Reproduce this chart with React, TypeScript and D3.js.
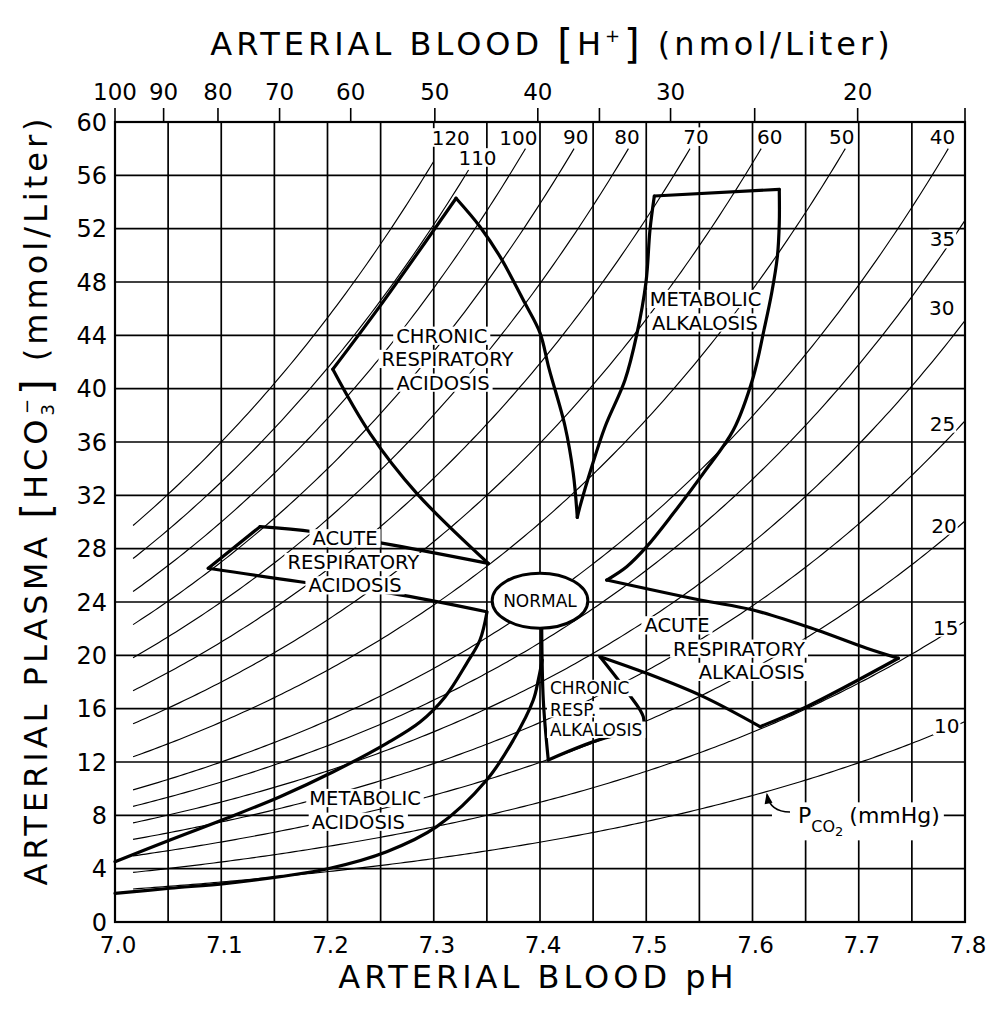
import React, { useEffect, useRef } from 'react';
import * as d3 from 'd3';

type Pt = [number, number]; // [pH, HCO3]

const W = 989;
const H = 1021;
const margin = { top: 122, right: 24, bottom: 99, left: 115 };

const phLabels = [7.0, 7.1, 7.2, 7.3, 7.4, 7.5, 7.6, 7.7, 7.8];
const hco3Labels = [0, 4, 8, 12, 16, 20, 24, 28, 32, 36, 40, 44, 48, 52, 56, 60];
const hPlusTicks = [100, 90, 80, 70, 60, 50, 40, 35, 30, 25, 20];
const hPlusLabels = [100, 90, 80, 70, 60, 50, 40, 30, 20];

// PCO2 isobars (mmHg) and the HCO3 where each one stops
const pco2Values = [10, 15, 20, 25, 30, 35, 40, 50, 60, 70, 80, 90, 100, 110, 120];
const pco2StopHco3 = [60, 60, 60, 60, 60, 60, 58, 58, 58, 58, 58, 58, 58, 56.4, 57];
const pco2StartPh = 7.017;
const pco2LabelAt: Pt[] = [
  [7.7828, 14.72], [7.7819, 22.09], [7.7802, 29.75], [7.7788, 37.4], [7.7781, 46.09],
  [7.7788, 51.22], [7.7788, 58.9], [7.684, 58.9], [7.6162, 58.9], [7.5468, 58.9],
  [7.4819, 58.9], [7.4337, 58.9], [7.3796, 58.84], [7.3412, 57.34], [7.316, 58.84],
];

// zone outlines
const chronicRespAcidosisLeft: Pt[] = [[7.205, 41.45], [7.249, 46.15], [7.321, 54.28]];
const chronicRespAcidosisRight: Pt[] = [
  [7.321, 54.28], [7.3435, 52.15], [7.3624, 49.9], [7.3859, 46.4], [7.4, 44.18],
  [7.4085, 41.5], [7.4235, 37.2], [7.4313, 33.65], [7.4351, 30.35],
];
const chronicRespAcidosisLower: Pt[] = [[7.205, 41.45], [7.24, 36.65], [7.284, 32.15], [7.3513, 26.9]];
const acuteRespAcidosisTop: Pt[] = [[7.3513, 26.9], [7.2525, 28.4], [7.1866, 29.27], [7.1365, 29.65]];
const acuteRespAcidosisTip: Pt[] = [[7.1365, 29.65], [7.0878, 26.53]];
const acuteRespAcidosisBottom: Pt[] = [[7.0878, 26.53], [7.1741, 25.52], [7.2604, 24.65], [7.3498, 23.27]];
const metAlkalosisLeft: Pt[] = [
  [7.4351, 30.35], [7.4376, 31.15], [7.4487, 34.15], [7.4615, 37.2], [7.48, 40.65],
  [7.491, 44.03], [7.4998, 48.02], [7.5035, 51.9], [7.5076, 54.45],
];
const metAlkalosisTop: Pt[] = [[7.5076, 54.45], [7.6252, 54.95]];
const metAlkalosisRight: Pt[] = [
  [7.6252, 54.95], [7.6252, 52.4], [7.6234, 49.9], [7.618, 47.15], [7.6108, 44.4],
  [7.6008, 40.9], [7.582, 36.9], [7.5537, 33.65], [7.5255, 30.65], [7.5004, 28.15],
  [7.4816, 26.65], [7.4628, 25.65],
];
const acuteRespAlkTop: Pt[] = [[7.4628, 25.65], [7.5506, 24.15], [7.6005, 23.4], [7.6604, 21.9], [7.7075, 20.53], [7.7372, 19.78]];
const acuteRespAlkRight: Pt[] = [[7.7372, 19.78], [7.651, 16.15], [7.6071, 14.65]];
const acuteRespAlkLower: Pt[] = [[7.6071, 14.65], [7.5537, 16.9], [7.5004, 18.65], [7.4565, 19.9]];
const chronicRespAlkLeft: Pt[] = [[7.4016, 22.2], [7.4031, 16.65], [7.4078, 12.15]];
const chronicRespAlkBottom: Pt[] = [[7.4078, 12.15], [7.4659, 13.9], [7.4969, 14.1]];
const chronicRespAlkRight: Pt[] = [[7.4565, 19.9], [7.4831, 17.15], [7.4972, 15.4], [7.4969, 14.1]];
const metAcidosisUpper: Pt[] = [
  [7.0, 4.52], [7.0518, 6.15], [7.1051, 7.78], [7.1553, 9.4], [7.2055, 11.27], [7.2557, 13.4],
  [7.2871, 15.0], [7.3106, 16.88], [7.331, 19.4], [7.3435, 21.15], [7.3501, 23.25],
];
const metAcidosisLower: Pt[] = [
  [7.0, 2.15], [7.0518, 2.53], [7.1051, 2.9], [7.1553, 3.4], [7.2024, 4.03], [7.2557, 5.27],
  [7.3028, 7.15], [7.3498, 10.65], [7.3749, 13.65], [7.3937, 16.65], [7.3985, 18.2], [7.4021, 19.65],
];

const zoneEdges = [
  chronicRespAcidosisLeft, chronicRespAcidosisRight, chronicRespAcidosisLower,
  acuteRespAcidosisTop, acuteRespAcidosisTip, acuteRespAcidosisBottom,
  metAlkalosisLeft, metAlkalosisTop, metAlkalosisRight,
  acuteRespAlkTop, acuteRespAlkRight, acuteRespAlkLower,
  chronicRespAlkLeft, chronicRespAlkBottom, chronicRespAlkRight,
  metAcidosisUpper, metAcidosisLower,
];

const normalCenter: Pt = [7.4, 24.1];
const normalHalf: Pt = [0.045, 2.06];

const zoneText: { text: string; at: Pt; left?: boolean; size?: number }[] = [
  { text: 'CHRONIC', at: [7.3075, 43.97] },
  { text: 'RESPIRATORY', at: [7.3129, 42.23] },
  { text: 'ACIDOSIS', at: [7.3087, 40.45] },
  { text: 'ACUTE', at: [7.2165, 28.78] },
  { text: 'RESPIRATORY', at: [7.2243, 27.0] },
  { text: 'ACIDOSIS', at: [7.2259, 25.25] },
  { text: 'METABOLIC', at: [7.5558, 46.73] },
  { text: 'ALKALOSIS', at: [7.5553, 44.96] },
  { text: 'ACUTE', at: [7.5289, 22.25] },
  { text: 'RESPIRATORY', at: [7.5873, 20.5] },
  { text: 'ALKALOSIS', at: [7.5992, 18.76] },
  { text: 'CHRONIC', at: [7.4094, 17.55], left: true, size: 17 },
  { text: 'RESP.', at: [7.4094, 15.95], left: true, size: 17 },
  { text: 'ALKALOSIS', at: [7.4094, 14.42], left: true, size: 17 },
  { text: 'METABOLIC', at: [7.2353, 9.3] },
  { text: 'ACIDOSIS', at: [7.229, 7.52] },
];

const pco2Arrow: Pt[] = [[7.6353, 8.25], [7.6165, 8.25], [7.6137, 9.55]];
const pco2TitleAt: Pt = [7.6428, 7.4];

const App: React.FC = () => {
  const ref = useRef<SVGSVGElement | null>(null);

  useEffect(() => {
    const svg = d3.select(ref.current);
    svg.selectAll('*').remove();

    const x = d3.scaleLinear().domain([7.0, 7.8]).range([margin.left, W - margin.right]);
    const y = d3.scaleLinear().domain([0, 60]).range([H - margin.bottom, margin.top]);
    const hx = (h: number) => x(9 - Math.log10(h));
    const hco3At = (p: number, ph: number) => 0.03 * p * Math.pow(10, ph - 6.1);

    svg.attr('font-family', 'DejaVu Sans, Verdana, sans-serif');
    svg.append('rect').attr('width', W).attr('height', H).attr('fill', '#fff');

    // grid
    const grid = svg.append('g').attr('stroke', '#000').attr('stroke-width', 1.7);
    grid.selectAll('line.v')
      .data(d3.range(1, 16).map(i => 7 + i * 0.05))
      .join('line')
      .attr('class', 'v')
      .attr('x1', d => x(d)).attr('x2', d => x(d))
      .attr('y1', y(0)).attr('y2', y(60));
    grid.selectAll('line.h')
      .data(hco3Labels.slice(1, -1))
      .join('line')
      .attr('class', 'h')
      .attr('x1', x(7)).attr('x2', x(7.8))
      .attr('y1', d => y(d)).attr('y2', d => y(d));

    // PCO2 isobars
    const iso = svg.append('g').attr('fill', 'none').attr('stroke', '#000').attr('stroke-width', 1.15);
    pco2Values.forEach((p, i) => {
      const end = Math.min(7.8, 6.1 + Math.log10(pco2StopHco3[i] / (0.03 * p)));
      const phs = d3.range(pco2StartPh, end, 0.004);
      phs.push(end);
      iso.append('path').attr('d', d3.line<number>().x(ph => x(ph)).y(ph => y(hco3At(p, ph)))(phs) as string);
    });

    // zones
    const smooth = d3.line<Pt>().x(d => x(d[0])).y(d => y(d[1])).curve(d3.curveCatmullRom.alpha(0.5));
    const zones = svg.append('g')
      .attr('fill', 'none').attr('stroke', '#000').attr('stroke-width', 3.2)
      .attr('stroke-linejoin', 'round').attr('stroke-linecap', 'round');
    zoneEdges.forEach(e => zones.append('path').attr('d', smooth(e) as string));

    svg.append('ellipse')
      .attr('cx', x(normalCenter[0])).attr('cy', y(normalCenter[1]))
      .attr('rx', x(7 + normalHalf[0]) - x(7)).attr('ry', y(0) - y(normalHalf[1]))
      .attr('fill', '#fff').attr('stroke', '#000').attr('stroke-width', 3);

    // frame + top ticks
    svg.append('rect')
      .attr('x', x(7)).attr('y', y(60))
      .attr('width', x(7.8) - x(7)).attr('height', y(0) - y(60))
      .attr('fill', 'none').attr('stroke', '#000').attr('stroke-width', 2.2);
    svg.append('g').attr('stroke', '#000').attr('stroke-width', 1.6)
      .selectAll('line')
      .data(hPlusTicks)
      .join('line')
      .attr('x1', d => hx(d)).attr('x2', d => hx(d))
      .attr('y1', y(60)).attr('y2', y(60) - 14);
    svg.append('line')
      .attr('x1', x(7.8)).attr('x2', x(7.8)).attr('y1', y(60)).attr('y2', y(60) - 14)
      .attr('stroke', '#000').attr('stroke-width', 1.6);

    // tick labels
    const ticks = svg.append('g').attr('fill', '#000');
    ticks.selectAll('text.top')
      .data(hPlusLabels)
      .join('text')
      .attr('class', 'top')
      .attr('x', d => hx(d)).attr('y', 100)
      .attr('text-anchor', 'middle').attr('font-size', 23)
      .text(d => d);
    ticks.selectAll('text.bot')
      .data(phLabels)
      .join('text')
      .attr('class', 'bot')
      .attr('x', d => x(d) + 3).attr('y', 953)
      .attr('text-anchor', 'middle').attr('font-size', 23)
      .text(d => d3.format('.1f')(d));
    ticks.selectAll('text.left')
      .data(hco3Labels)
      .join('text')
      .attr('class', 'left')
      .attr('x', 107).attr('y', d => y(d) + 8.5)
      .attr('text-anchor', 'end').attr('font-size', 24)
      .text(d => d);

    // boxed text on the plot
    const notes = svg.append('g');
    const boxed = (text: string, at: Pt, size: number, left = false, padX = 3, padY = 2) => {
      const base = y(at[1]) + size * 0.365;
      const t = notes.append('text')
        .attr('x', x(at[0])).attr('y', base)
        .attr('font-size', size)
        .attr('text-anchor', left ? 'start' : 'middle')
        .text(text);
      const b = (t.node() as SVGTextElement).getBBox();
      const cap = size * 0.73;
      notes.insert('rect', () => t.node() as SVGTextElement)
        .attr('x', b.x - padX).attr('y', base - cap - padY)
        .attr('width', b.width + 2 * padX).attr('height', cap + 2 * padY)
        .attr('fill', '#fff');
    };

    pco2Values.forEach((p, i) => boxed(String(p), pco2LabelAt[i], 20, false, 1, 2));
    zoneText.forEach(z => boxed(z.text, z.at, z.size ?? 19.5, !!z.left));
    boxed('NORMAL', normalCenter, 17, false, 0, 0);

    // PCO2 (mmHg) note with arrow
    const pt = notes.append('text')
      .attr('x', x(pco2TitleAt[0])).attr('y', y(pco2TitleAt[1]))
      .attr('font-size', 22);
    pt.append('tspan').text('P');
    pt.append('tspan').attr('font-size', 16).attr('dy', 9).text('CO');
    pt.append('tspan').attr('font-size', 13).attr('dy', 4).text('2');
    pt.append('tspan').attr('dy', -13).attr('dx', 6).text('(mmHg)');
    const pb = (pt.node() as SVGTextElement).getBBox();
    notes.insert('rect', () => pt.node() as SVGTextElement)
      .attr('x', pb.x - 26).attr('y', pb.y - 1)
      .attr('width', pb.width + 30).attr('height', pb.height + 2)
      .attr('fill', '#fff');

    const [a0, a1, a2] = pco2Arrow.map(d => [x(d[0]), y(d[1])]);
    notes.append('path')
      .attr('d', `M${a0[0]},${a0[1]} Q${a1[0]},${a1[1]} ${a2[0]},${a2[1]}`)
      .attr('fill', 'none').attr('stroke', '#000').attr('stroke-width', 1.6);
    const ang = Math.atan2(a2[1] - a1[1], a2[0] - a1[0]);
    const head = [0, 1, -1].map(k => k === 0
      ? [a2[0] + 2 * Math.cos(ang), a2[1] + 2 * Math.sin(ang)]
      : [a2[0] - 9 * Math.cos(ang) + 4 * k * Math.sin(ang), a2[1] - 9 * Math.sin(ang) - 4 * k * Math.cos(ang)]);
    notes.append('path')
      .attr('d', `M${head[0]}L${head[1]}L${head[2]}Z`)
      .attr('fill', '#000');

    // titles
    const titles = svg.append('g').attr('fill', '#000').attr('font-size', 32).attr('letter-spacing', 4);
    const top = titles.append('text').attr('x', 552).attr('y', 55).attr('text-anchor', 'middle');
    top.append('tspan').text('ARTERIAL BLOOD ');
    top.append('tspan').attr('font-size', 40).attr('dy', 3).text('[');
    top.append('tspan').attr('dy', -3).text('H');
    top.append('tspan').attr('font-size', 18).attr('dy', -13).text('+');
    top.append('tspan').attr('font-size', 40).attr('dy', 16).text(']');
    top.append('tspan').attr('dy', -3).text(' (nmol/Liter)');

    titles.append('text')
      .attr('x', 538).attr('y', 988).attr('text-anchor', 'middle')
      .text('ARTERIAL BLOOD pH');

    const side = titles.append('text')
      .attr('transform', 'translate(47,500) rotate(-90)')
      .attr('text-anchor', 'middle');
    side.append('tspan').text('ARTERIAL PLASMA ');
    side.append('tspan').attr('font-size', 40).attr('dy', 3).text('[');
    side.append('tspan').attr('dy', -3).text('HCO');
    side.append('tspan').attr('font-size', 18).attr('dy', 7).text('3');
    side.append('tspan').attr('font-size', 18).attr('dx', -14).attr('dy', -21).text('−');
    side.append('tspan').attr('font-size', 40).attr('dy', 17).text(']');
    side.append('tspan').attr('dy', -3).text(' (mmol/Liter)');
  }, []);

  return (
    <svg
      ref={ref}
      width={W}
      height={H}
      viewBox={`0 0 ${W} ${H}`}
      style={{ position: 'absolute', left: 0, top: 0, display: 'block' }}
    />
  );
};

export default App;
